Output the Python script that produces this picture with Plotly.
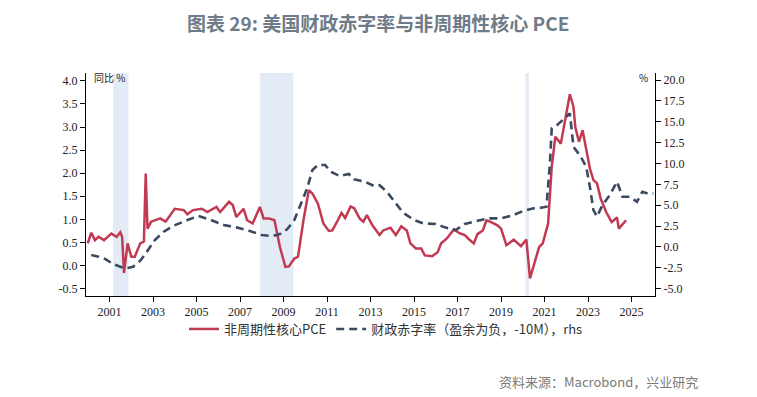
import plotly.graph_objects as go

# ---- Data ----
pce_dates = ["2000-01","2000-03","2000-05","2000-07","2000-10","2001-02","2001-05","2001-07","2001-08","2001-09",
             "2001-11","2002-01","2002-03","2002-06","2002-08","2002-09","2002-10","2002-12","2003-05","2003-08",
             "2004-01","2004-06","2004-08","2004-11","2005-04","2005-07","2005-12","2006-02","2006-07","2006-09",
             "2006-11","2007-03","2007-05","2007-08","2007-12","2008-02","2008-05","2008-08","2008-11","2009-02",
             "2009-04","2009-07","2009-09","2009-12","2010-03","2010-05","2010-08","2010-11","2011-02","2011-04",
             "2011-07","2011-09","2011-11","2012-02","2012-04","2012-07","2012-09","2012-11","2013-02","2013-06",
             "2013-08","2013-12","2014-03","2014-06","2014-09","2014-11","2015-02","2015-05","2015-07","2015-11",
             "2016-02","2016-04","2016-07","2016-11","2017-02","2017-05","2017-07","2017-10","2017-12","2018-03",
             "2018-05","2018-07","2018-11","2019-01","2019-04","2019-08","2019-12","2020-03","2020-05","2020-07",
             "2020-10","2020-12","2021-03","2021-05","2021-07","2021-10","2022-01","2022-03","2022-05","2022-06",
             "2022-08","2022-10","2023-02","2023-04","2023-06","2023-08","2023-11","2024-02","2024-05","2024-06",
             "2024-10"]
pce_values = [0.48,0.71,0.55,0.62,0.55,0.69,0.62,0.72,0.62,-0.16,
              0.48,0.19,0.19,0.48,0.52,1.99,0.80,0.95,1.02,0.95,
              1.23,1.20,1.11,1.20,1.23,1.16,1.27,1.16,1.38,1.31,
              1.05,1.23,0.98,0.91,1.27,1.02,1.02,0.98,0.40,-0.03,
              -0.02,0.15,0.19,0.98,1.63,1.56,1.34,0.91,0.75,0.76,
              0.98,1.14,1.03,1.28,1.24,1.02,0.95,1.09,0.87,0.66,
              0.76,0.82,0.66,0.85,0.76,0.48,0.37,0.37,0.22,0.20,
              0.29,0.48,0.58,0.78,0.70,0.66,0.58,0.48,0.68,0.76,
              0.98,0.95,0.87,0.80,0.44,0.56,0.42,0.56,-0.28,-0.03,
              0.40,0.48,0.91,2.14,2.79,2.64,3.29,3.71,3.44,3.00,
              2.68,2.93,2.10,1.85,1.78,1.45,1.16,0.94,1.04,0.80,
              0.98]

deficit_dates = ["2000-03","2000-07","2000-11","2001-03","2001-07","2001-10","2002-02","2002-06","2002-09","2003-02",
                 "2003-07","2003-12","2004-08","2005-02","2005-09","2006-04","2006-11","2007-06","2008-01","2008-07",
                 "2008-11","2009-03","2009-07","2009-10","2010-02","2010-05","2010-08","2010-12","2011-03","2011-08",
                 "2012-01","2012-04","2012-10","2013-03","2013-06","2013-10","2014-03","2014-07","2015-01","2015-06",
                 "2016-01","2016-06","2016-12","2017-05","2017-12","2018-06","2019-01","2019-07","2020-01","2020-07",
                 "2020-11","2021-02","2021-04","2021-05","2021-08","2021-12","2022-03","2022-04","2022-05","2022-09",
                 "2022-12","2023-02","2023-04","2023-06","2023-09","2024-01","2024-05","2024-08","2024-12","2025-04",
                 "2025-07","2025-10","2026-01"]
deficit_values = [-0.96,-1.16,-1.48,-2.04,-2.36,-2.56,-2.36,-1.64,-0.76,0.83,
                  1.83,2.51,3.23,3.71,3.23,2.63,2.35,1.95,1.43,1.31,
                  1.55,2.11,3.23,4.82,7.02,9.22,9.82,9.82,9.02,8.50,
                  8.74,8.10,7.82,7.30,7.40,6.62,5.23,4.11,3.23,2.83,
                  2.75,2.35,2.03,2.75,3.15,3.43,3.43,3.75,4.30,4.63,
                  4.70,4.82,10.02,14.21,14.61,15.41,16.00,14.00,12.00,10.82,
                  9.60,7.20,4.43,3.63,5.03,6.22,7.82,6.02,6.02,5.42,
                  6.62,6.40,6.40]

recession_starts = ["2001-03-01", "2007-12-01", "2020-02-15"]
recession_ends = ["2001-11-15", "2009-06-15", "2020-04-15"]

left_ticks = [-0.5, 0.0, 0.5, 1.0, 1.5, 2.0, 2.5, 3.0, 3.5, 4.0]
right_ticks = [-5.0, -2.5, 0.0, 2.5, 5.0, 7.5, 10.0, 12.5, 15.0, 17.5, 20.0]

name_pce = "非周期性核心PCE"
name_deficit = "财政赤字率（盈余为负，-10M），rhs"
title_text = "<b>图表 29: 美国财政赤字率与非周期性核心 PCE</b>"
source_text = "资料来源：Macrobond，兴业研究"

# ---- Figure ----
RED = "#c23a52"
NAVY = "#3b4a60"
tick_font = dict(family="Liberation Serif, Times New Roman, serif", size=12, color="#222222")

# plot-area geometry (reference pixels)
PL, PR, PT, PB = 86, 655, 73, 296
plot_w = PR - PL
plot_h = PB - PT
OFF = 8  # page body margin
W, H = 757 - 2 * OFF, 397 - OFF


def px(X):
    return (X - PL) / plot_w


def py(Y):
    return (PB - Y) / plot_h


fig = go.Figure()
fig.add_trace(go.Scatter(x=pce_dates, y=pce_values, name=name_pce, mode="lines",
                         line=dict(color=RED, width=2.5), yaxis="y"))
fig.add_trace(go.Scatter(x=deficit_dates, y=deficit_values, name=name_deficit, mode="lines",
                         line=dict(color=NAVY, width=2.6, dash="8px,5px"), yaxis="y2"))

for s, e in zip(recession_starts, recession_ends):
    fig.add_shape(type="rect", xref="x", yref="paper", x0=s, x1=e, y0=0, y1=1,
                  fillcolor="#e3ecf6", line=dict(width=0), layer="below")

fig.update_layout(
    width=W, height=H,
    margin=dict(l=PL - OFF, r=W - (PR - OFF), t=PT - OFF, b=H - (PB - OFF), pad=0),
    paper_bgcolor="white", plot_bgcolor="white",
    showlegend=True,
    legend=dict(orientation="h", x=px(386), xanchor="center", y=py(314), yanchor="top",
                font=dict(family="Noto Sans CJK SC", size=13, color="#333333"),
                itemwidth=30, tracegroupgap=0, bgcolor="rgba(0,0,0,0)"),
    xaxis=dict(type="date", range=["1999-12-03", "2026-01-29"],
               tick0="2001-01-01", dtick="M24", tickformat="%Y",
               showgrid=False, zeroline=False, showline=True, linecolor="#000000", linewidth=1,
               ticks="outside", ticklen=5, tickcolor="#000000", tickfont=tick_font),
    yaxis=dict(range=[-0.66, 4.17], tickvals=left_ticks,
               ticktext=[f"{v:.1f}" for v in left_ticks],
               showgrid=False, zeroline=False, showline=True, linecolor="#000000", linewidth=1,
               ticks="outside", ticklen=5, tickcolor="#000000", tickfont=tick_font),
    yaxis2=dict(range=[-5.87, 20.84], tickvals=right_ticks,
                ticktext=[f"{v:.1f}" for v in right_ticks],
                overlaying="y", side="right",
                showgrid=False, zeroline=False, showline=True, linecolor="#000000", linewidth=1,
                ticks="outside", ticklen=5, tickcolor="#000000", tickfont=tick_font),
    annotations=[
        dict(text=title_text, xref="paper", yref="paper", x=px(378), y=py(22),
             xanchor="center", yanchor="middle", showarrow=False,
             font=dict(family="Noto Sans CJK SC", size=19, color="#6f7b87")),
        dict(text=source_text, xref="paper", yref="paper", x=px(700), y=py(381),
             xanchor="right", yanchor="middle", showarrow=False,
             font=dict(family="Noto Sans CJK SC", size=13, color="#7a7a7a")),
        dict(text="同比 %", xref="paper", yref="paper", x=px(92), y=py(78),
             xanchor="left", yanchor="middle", showarrow=False,
             font=dict(family="Noto Sans CJK SC", size=10, color="#222222")),
        dict(text="%", xref="paper", yref="paper", x=px(650), y=py(78),
             xanchor="right", yanchor="middle", showarrow=False,
             font=dict(family="Noto Sans CJK SC", size=10, color="#222222")),
    ],
)

fig.write_html("out.html")
